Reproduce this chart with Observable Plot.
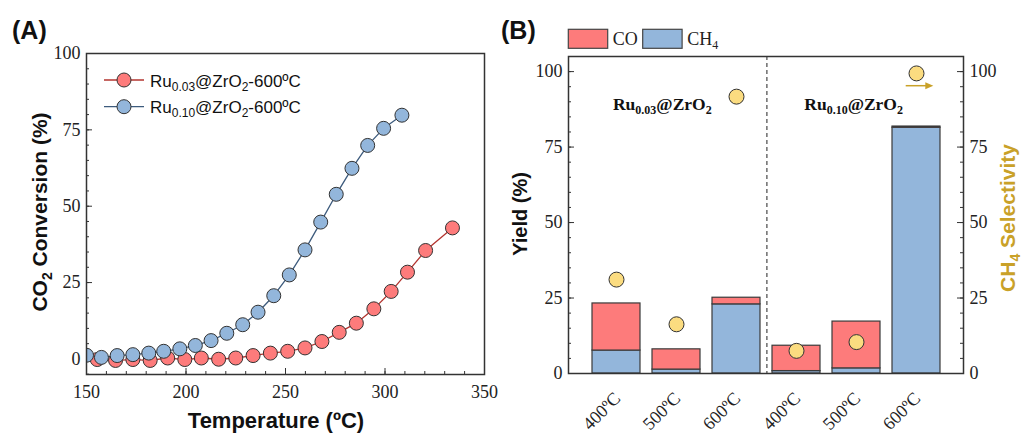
<!DOCTYPE html>
<html><head><meta charset="utf-8">
<script src="https://cdn.jsdelivr.net/npm/d3@7"></script>
<script src="https://cdn.jsdelivr.net/npm/@observablehq/plot@0.6"></script>
<style>
body{margin:0;background:#fff;}
#wrap{position:relative;width:1022px;height:433px;display:flex;}
svg{display:block;}
</style></head><body><div id="wrap"></div>
<script>
// ---------- Panel A data ----------
const tempLow = [155.4,164.6,173.3,182.0,190.8,199.4,207.7,216.4,225.0,233.7,242.4,251.1,259.8,268.3,277.0,285.6,294.4,303.1,311.3,320.4,333.9];
const convLow = [-0.2,-0.5,-0.2,-0.5,0.3,-0.2,0.3,-0.1,0.3,1.1,1.9,2.5,3.6,5.7,8.7,11.7,16.4,22.1,28.4,35.5,42.9];
const tempHigh = [150,157.5,165.4,173.3,181.3,188.8,196.9,204.7,212.6,220.5,228.5,236.2,244.1,251.9,259.8,267.7,275.5,283.4,291.3,299.3,308.5];
const convHigh = [1.2,0.5,1.1,1.4,1.9,2.5,3.3,4.4,6.0,8.4,11.2,15.3,20.7,27.5,35.7,44.8,53.9,62.4,69.9,75.5,79.8];
const ticksAX = [150,200,250,300,350];
const ticksAY = [0,25,50,75,100];

// ---------- Panel B data ----------
const catalysts = ["Ru0.03@ZrO2","Ru0.03@ZrO2","Ru0.03@ZrO2","Ru0.10@ZrO2","Ru0.10@ZrO2","Ru0.10@ZrO2"];
const tempLabels = ["400ºC","500ºC","600ºC","400ºC","500ºC","600ºC"];
const ch4Yield = [7.6,1.3,22.9,0.8,1.7,81.4];
const coYield = [15.6,6.7,2.2,8.4,15.5,0.4];
const ch4Sel = [31.1,16.3,91.7,7.5,10.4,99.4];
const ticksBY = [0,25,50,75,100];

const RED = "#fd7b7b", BLUE = "#93b6db", YEL = "#fbdc80", GOLD = "#c9a128";
const SERIF = "'Liberation Serif','Times New Roman',serif";
const SANS = "'Liberation Sans',Arial,sans-serif";

function rich(sel, parts, size, shift) {
  let inSub = false;
  parts.forEach(([t, sub]) => {
    const ts = sel.append("tspan").text(t);
    if (sub && !inSub) ts.attr("dy", shift);
    if (!sub && inSub) ts.attr("dy", -shift);
    if (sub) ts.attr("font-size", size);
    inSub = !!sub;
  });
  return sel;
}
function serifTicks(s) {
  s.selectAll('g[aria-label$="tick label"]').attr("font-family", SERIF).attr("font-size", 18)
    .style("font-family", SERIF).style("font-size", "18px");
  s.selectAll('g[aria-label$="tick label"] text').attr("font-family", SERIF).style("font-family", SERIF);
}
const range = (a, b, s) => d3.range(a, b + s / 2, s);

// ================= Panel A =================
const WA = 500, HA = 433, mlA = 86, mrA = 16, mtA = 53, mbA = 59;
const fwA = WA - mlA - mrA, fhA = HA - mtA - mbA;
const low = tempLow.map((t, i) => ({t, c: convLow[i]}));
const high = tempHigh.map((t, i) => ({t, c: convHigh[i]}));

const chartA = Plot.plot({
  width: WA, height: HA,
  marginLeft: mlA, marginRight: mrA, marginTop: mtA, marginBottom: mbA,
  style: {overflow: "visible"},
  x: {domain: [150, 350]},
  y: {domain: [-5.1, 100]},
  marks: [
    Plot.axisX({ticks: ticksAX, tickSize: 0, tickPadding: 11, fontSize: 18, fill: "#222", label: null}),
    Plot.axisY({ticks: ticksAY, tickSize: 0, tickPadding: 6, fontSize: 18, fill: "#222", label: null}),
    Plot.tickY(range(-5, 100, 5), {y: d => d, insetRight: fwA - 3, stroke: "#333"}),
    Plot.tickY(ticksAY, {y: d => d, insetRight: fwA - 6, stroke: "#333"}),
    Plot.tickX(range(150, 350, 10), {x: d => d, insetTop: fhA - 3, stroke: "#333"}),
    Plot.tickX(ticksAX, {x: d => d, insetTop: fhA - 6, stroke: "#333"}),
    Plot.line(low, {x: "t", y: "c", stroke: "#b3342f", strokeWidth: 1.3}),
    Plot.line(high, {x: "t", y: "c", stroke: "#3d5b7d", strokeWidth: 1.3, clip: "frame"}),
    Plot.dot(low, {x: "t", y: "c", r: 7, fill: RED, stroke: "#333", strokeWidth: 1}),
    Plot.dot(high, {x: "t", y: "c", r: 7, fill: BLUE, stroke: "#333", strokeWidth: 1, clip: "frame"}),
    Plot.frame({stroke: "#333", strokeWidth: 1.5})
  ]
});
document.getElementById("wrap").append(chartA);
{
  const s = d3.select(chartA);
  serifTicks(s);
  s.append("text").attr("x", 12).attr("y", 39).attr("text-anchor", "start").attr("font-family", SANS).attr("font-weight", "bold")
    .attr("font-size", 25).attr("fill", "#111").text("(A)");
  const ylab = s.append("text").attr("transform", "translate(47,212) rotate(-90)").attr("text-anchor", "middle")
    .attr("font-family", SANS).attr("font-weight", "bold").attr("font-size", 21).attr("fill", "#111");
  rich(ylab, [["CO"], ["2", true], [" Conversion (%)"]], 14, 5);
  s.append("text").attr("x", 276).attr("y", 428).attr("text-anchor", "middle").attr("font-family", SANS)
    .attr("font-weight", "bold").attr("font-size", 22).attr("fill", "#111").text("Temperature (ºC)");
  const leg = [
    {y: 80, stroke: "#b3342f", fill: RED, sub: "0.03"},
    {y: 106.7, stroke: "#3d5b7d", fill: BLUE, sub: "0.10"}
  ];
  leg.forEach(l => {
    s.append("line").attr("x1", 104).attr("x2", 144).attr("y1", l.y).attr("y2", l.y).attr("stroke", l.stroke).attr("stroke-width", 1.3);
    s.append("circle").attr("cx", 124).attr("cy", l.y).attr("r", 7).attr("fill", l.fill).attr("stroke", "#333");
    const t = s.append("text").attr("x", 150).attr("y", l.y + 6.5).attr("text-anchor", "start").attr("font-family", SANS).attr("font-size", 17).attr("fill", "#111");
    rich(t, [["Ru"], [l.sub, true], ["@ZrO"], ["2", true], ["-600ºC"]], 12, 4);
  });
}

// ================= Panel B =================
const WB = 522, HB = 433, mlB = 68, mrB = 59, mtB = 56, mbB = 60;
const fwB = WB - mlB - mrB, fhB = HB - mtB - mbB;
const keys = tempLabels.map((t, i) => i);
const rows = [];
keys.forEach(i => {
  rows.push({k: i, comp: "CH4", v: ch4Yield[i]});
  rows.push({k: i, comp: "CO", v: coYield[i]});
});
const sel = keys.map(i => ({k: i, v: ch4Sel[i]}));
const pIn = 0.2, pOut = 0.35;
const step = fwB / (keys.length - pIn + 2 * pOut);

const chartB = Plot.plot({
  width: WB, height: HB,
  marginLeft: mlB, marginRight: mrB, marginTop: mtB, marginBottom: mbB,
  style: {overflow: "visible"},
  x: {type: "band", domain: keys, paddingInner: pIn, paddingOuter: pOut},
  y: {domain: [0, 105]},
  color: {domain: ["CO", "CH4"], range: [RED, BLUE]},
  marks: [
    Plot.axisX({tickSize: 0, tickRotate: -45, tickPadding: 16, dx: 1, dy: 6, tickFormat: i => tempLabels[i], fontSize: 18, fill: "#222", label: null}),
    Plot.axisY({ticks: ticksBY, tickSize: 0, tickPadding: 6, fontSize: 18, fill: "#222", label: null}),
    Plot.axisY({anchor: "right", ticks: ticksBY, tickSize: 0, tickPadding: 6, fontSize: 18, fill: "#222", label: null}),
    Plot.tickY(range(0, 105, 5), {y: d => d, insetRight: fwB - 3, stroke: "#333"}),
    Plot.tickY(ticksBY, {y: d => d, insetRight: fwB - 6, stroke: "#333"}),
    Plot.tickY(range(0, 105, 5), {y: d => d, insetLeft: fwB - 3, stroke: "#333"}),
    Plot.tickY(ticksBY, {y: d => d, insetLeft: fwB - 6, stroke: "#333"}),
    Plot.barY(rows, {x: "k", y: "v", fill: "comp", stroke: "#3a3a3a", strokeWidth: 1.2}),
    Plot.ruleX([2], {x: d => d, dx: step / 2, stroke: "#555", strokeWidth: 1.3, strokeDasharray: "4,3"}),
    Plot.dot(sel, {x: "k", y: "v", r: 7.5, fill: YEL, stroke: "#333", strokeWidth: 1}),
    Plot.frame({stroke: "#333", strokeWidth: 1.5})
  ]
});
document.getElementById("wrap").append(chartB);
{
  const s = d3.select(chartB);
  serifTicks(s);
  s.append("text").attr("x", 1).attr("y", 39).attr("text-anchor", "start").attr("font-family", SANS).attr("font-weight", "bold")
    .attr("font-size", 25).attr("fill", "#111").text("(B)");
  s.append("text").attr("transform", "translate(27,214) rotate(-90)").attr("text-anchor", "middle")
    .attr("font-family", SANS).attr("font-weight", "bold").attr("font-size", 20).attr("fill", "#111").text("Yield (%)");
  const r = s.append("text").attr("transform", "translate(515,218) rotate(-90)").attr("text-anchor", "middle")
    .attr("font-family", SANS).attr("font-weight", "bold").attr("font-size", 21).attr("fill", GOLD);
  rich(r, [["CH"], ["4", true], [" Selectivity"]], 14, 5);
  // legend
  [{x: 68.3, c: RED, parts: [["CO"]]}, {x: 142.7, c: BLUE, parts: [["CH"], ["4", true]]}].forEach(l => {
    s.append("rect").attr("x", l.x).attr("y", 29.3).attr("width", 39.4).attr("height", 19).attr("fill", l.c).attr("stroke", "#444").attr("stroke-width", 1.2);
    const t = s.append("text").attr("x", l.x + 44.5).attr("y", 45).attr("text-anchor", "start").attr("font-family", SERIF).attr("font-size", 18).attr("fill", "#222");
    rich(t, l.parts, 12, 4);
  });
  // group labels
  const xs = d3.scaleBand().domain(keys).range([mlB, WB - mrB]).paddingInner(pIn).paddingOuter(pOut);
  [[1, "0.03"], [4, "0.10"]].forEach(([k, sub]) => {
    const t = s.append("text").attr("x", xs(k) + xs.bandwidth() / 2 - 12 + (k === 4 ? 9 : 0)).attr("y", 110).attr("text-anchor", "middle")
      .attr("font-family", SERIF).attr("font-weight", "bold").attr("font-size", 17.5).attr("fill", "#111");
    rich(t, [["Ru"], [sub, true], ["@ZrO"], ["2", true]], 12, 4);
  });
  // arrow to right axis
  const ay = 85.7, ax1 = 405.7, ax2 = 433.3;
  s.append("line").attr("x1", ax1).attr("x2", ax2 - 6).attr("y1", ay).attr("y2", ay).attr("stroke", GOLD).attr("stroke-width", 1.5);
  s.append("path").attr("d", `M${ax2},${ay} L${ax2 - 8},${ay - 3.5} L${ax2 - 8},${ay + 3.5} Z`).attr("fill", GOLD);
}
</script></body></html>
